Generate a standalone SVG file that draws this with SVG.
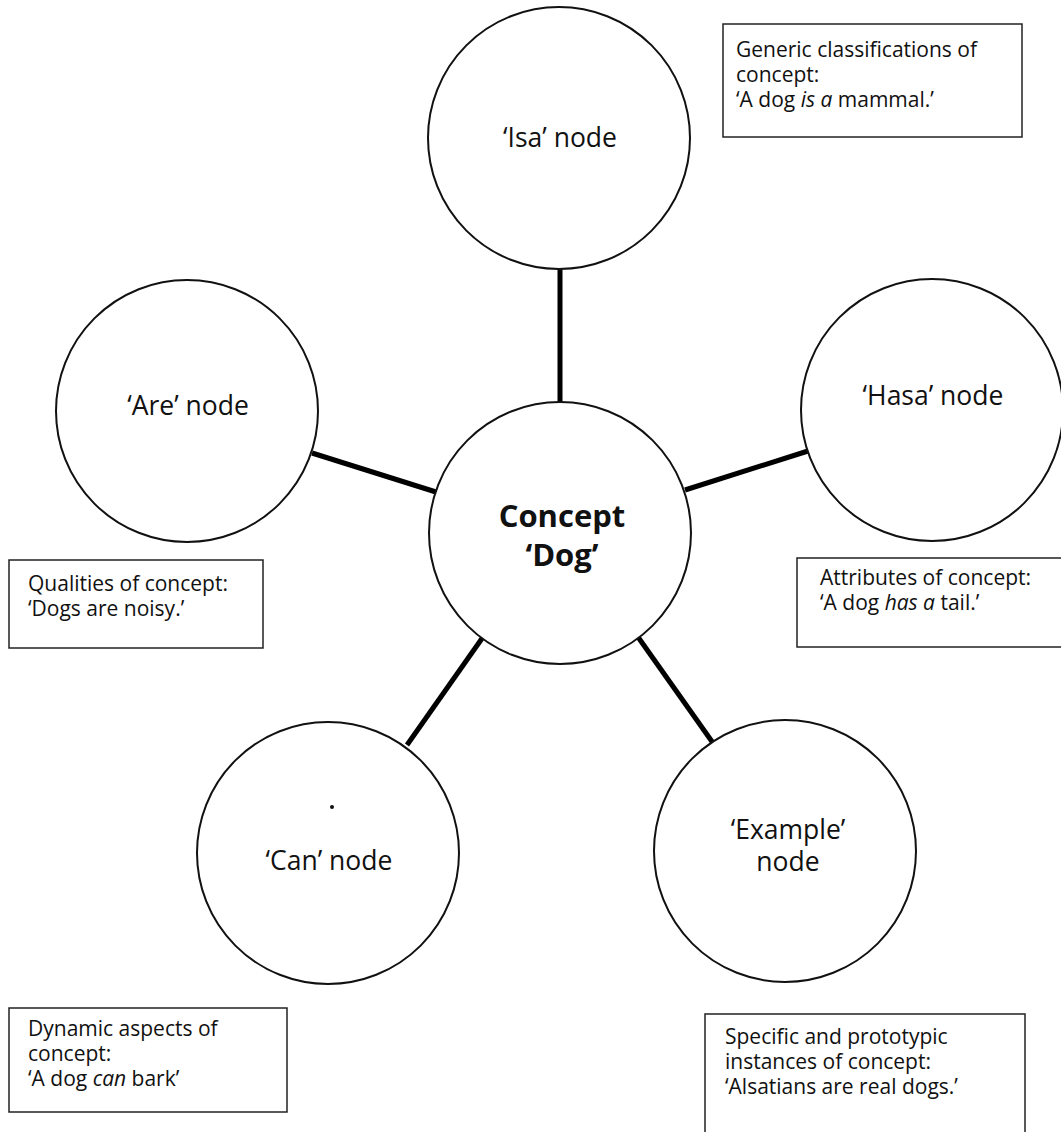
<svg xmlns="http://www.w3.org/2000/svg" width="1061" height="1132" viewBox="0 0 1061 1132">
<style>
.node circle{fill:#fff;stroke:#111;stroke-width:2}
.node circle.dot{fill:#111;stroke:none}
.lbl{font-family:"Open Sans","Liberation Sans",sans-serif;font-size:26.5px;fill:#111;text-anchor:middle}
.ctr{font-family:"Open Sans","Liberation Sans",sans-serif;font-size:31px;font-weight:bold;fill:#111;text-anchor:middle}
.box rect{fill:#fff;stroke:#222;stroke-width:1.5}
.bt{font-family:"Open Sans","Liberation Sans",sans-serif;font-size:21px;fill:#111}
.conn line{stroke:#000;stroke-width:5}
</style>
<rect width="1061" height="1132" fill="#fff"/>
<g id="connectors" class="conn">
<line x1="560" y1="268" x2="560" y2="402"/>
<line x1="312" y1="453" x2="436" y2="492"/>
<line x1="685" y1="490" x2="808" y2="451"/>
<line x1="483" y1="637" x2="407" y2="745"/>
<line x1="638" y1="637" x2="713" y2="743"/>
</g>
<g id="node-isa" class="node"><circle cx="559" cy="138" r="131"/><text class="lbl" x="560" y="147">‘Isa’ node</text></g>
<g id="node-are" class="node"><circle cx="187" cy="411" r="131"/><text class="lbl" x="188" y="415">‘Are’ node</text></g>
<g id="node-hasa" class="node"><circle cx="932" cy="410" r="131"/><text class="lbl" x="933" y="405">‘Hasa’ node</text></g>
<g id="node-concept" class="node"><circle cx="560" cy="533" r="131"/><text class="ctr" x="562" y="527">Concept</text><text class="ctr" x="562" y="566">‘Dog’</text></g>
<g id="node-can" class="node"><circle cx="328" cy="853" r="131"/><circle class="dot" cx="332" cy="807" r="2"/><text class="lbl" x="329" y="870">‘Can’ node</text></g>
<g id="node-example" class="node"><circle cx="785" cy="851" r="131"/><text class="lbl" x="788" y="839">‘Example’</text><text class="lbl" x="788" y="871">node</text></g>
<g id="box-isa" class="box"><rect x="723" y="24" width="299" height="113"/>
<text class="bt" x="736" y="57">Generic classifications of</text>
<text class="bt" x="736" y="82">concept:</text>
<text class="bt" x="736" y="107">‘A dog <tspan font-style="italic">is a</tspan> mammal.’</text></g>
<g id="box-are" class="box"><rect x="9" y="560" width="254" height="88"/>
<text class="bt" x="28" y="591">Qualities of concept:</text>
<text class="bt" x="28" y="616">‘Dogs are noisy.’</text></g>
<g id="box-hasa" class="box"><rect x="797" y="558" width="280" height="89"/>
<text class="bt" x="820" y="585">Attributes of concept:</text>
<text class="bt" x="820" y="610">‘A dog <tspan font-style="italic">has a</tspan> tail.’</text></g>
<g id="box-can" class="box"><rect x="9" y="1008" width="278" height="104"/>
<text class="bt" x="28" y="1036">Dynamic aspects of</text>
<text class="bt" x="28" y="1061">concept:</text>
<text class="bt" x="28" y="1086">‘A dog <tspan font-style="italic">can</tspan> bark’</text></g>
<g id="box-example" class="box"><rect x="705" y="1014" width="320" height="130"/>
<text class="bt" x="725" y="1044">Specific and prototypic</text>
<text class="bt" x="725" y="1069">instances of concept:</text>
<text class="bt" x="725" y="1094">‘Alsatians are real dogs.’</text></g>
</svg>
